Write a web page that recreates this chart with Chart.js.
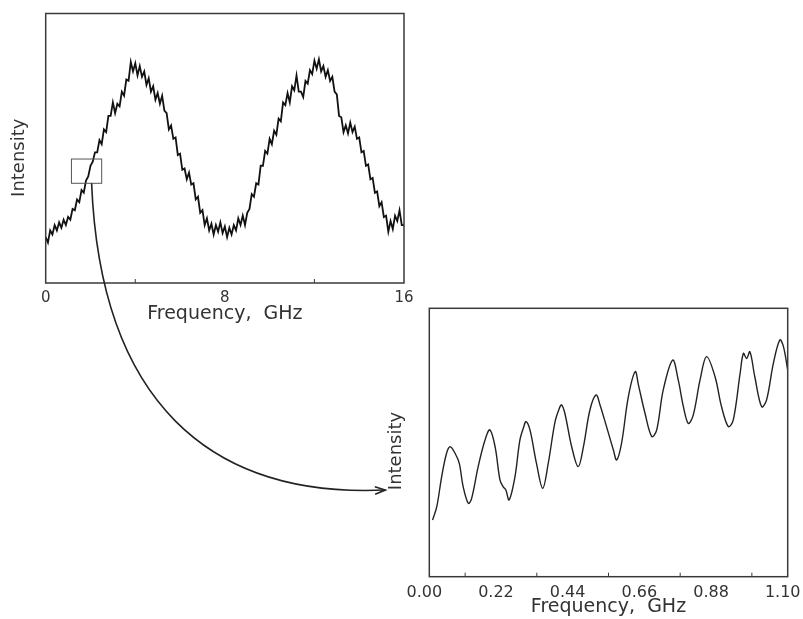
<!DOCTYPE html>
<html>
<head>
<meta charset="utf-8">
<script src="https://cdn.jsdelivr.net/npm/chart.js@4.4.1/dist/chart.umd.min.js"></script>
<style>
  html, body { margin: 0; padding: 0; background: #fff; }
  body { width: 803px; height: 619px; position: relative; overflow: hidden; }
  canvas { position: absolute; }
  #wide { left: 0; top: 0; }
  #zoom { left: 380px; top: 290px; }
  #arrow { left: 0; top: 0; pointer-events: none; }
</style>
</head>
<body>
<canvas id="wide" width="440" height="330"></canvas>
<canvas id="zoom" width="440" height="329"></canvas>
<canvas id="arrow" width="803" height="619"></canvas>
<script>
// Full scan, 0 - 16 GHz
const wideFreq = [
  0, 0.1, 0.2, 0.3, 0.4, 0.5, 0.6, 0.7, 0.8, 0.9,
  1, 1.1, 1.2, 1.3, 1.4, 1.5, 1.6, 1.7, 1.8, 1.9,
  2, 2.1, 2.2, 2.3, 2.4, 2.5, 2.6, 2.7, 2.8, 2.9,
  3, 3.1, 3.2, 3.3, 3.4, 3.5, 3.6, 3.7, 3.8, 3.9,
  4, 4.1, 4.2, 4.3, 4.4, 4.5, 4.6, 4.7, 4.8, 4.9,
  5, 5.1, 5.2, 5.3, 5.4, 5.5, 5.6, 5.7, 5.8, 5.9,
  6, 6.1, 6.2, 6.3, 6.4, 6.5, 6.6, 6.7, 6.8, 6.9,
  7, 7.1, 7.2, 7.3, 7.4, 7.5, 7.6, 7.7, 7.8, 7.9,
  8, 8.1, 8.2, 8.3, 8.4, 8.5, 8.6, 8.7, 8.8, 8.9,
  9, 9.1, 9.2, 9.3, 9.4, 9.5, 9.6, 9.7, 9.8, 9.9,
  10, 10.1, 10.2, 10.3, 10.4, 10.5, 10.6, 10.7, 10.8, 10.9,
  11, 11.1, 11.2, 11.3, 11.4, 11.5, 11.6, 11.7, 11.8, 11.9,
  12, 12.1, 12.2, 12.3, 12.4, 12.5, 12.6, 12.7, 12.8, 12.9,
  13, 13.1, 13.2, 13.3, 13.4, 13.5, 13.6, 13.7, 13.8, 13.9,
  14, 14.1, 14.2, 14.3, 14.4, 14.5, 14.6, 14.7, 14.8, 14.9,
  15, 15.1, 15.2, 15.3, 15.4, 15.5, 15.6, 15.7, 15.8, 15.9,
  16
];
const wideIntensity = [
  17, 15, 19.5, 18, 21.5, 19.5, 22.5, 20.5, 23.5, 21.5,
  24.5, 23.5, 27.5, 27, 31, 30, 34.5, 33.5, 38, 39.5,
  43.5, 45, 48.5, 48.5, 53, 51.5, 57, 56, 62, 62,
  67, 63, 66.5, 65.5, 71, 69.5, 75.5, 75, 82, 78.5,
  81.5, 77, 80.5, 76.5, 78.5, 73.5, 76, 71, 73, 68,
  70.5, 66.5, 69.5, 64, 63, 57, 58.5, 53.5, 54, 47.5,
  48, 42, 42.5, 38.5, 41, 36.5, 37, 31, 32, 26,
  27, 21.5, 24, 19.5, 22, 18, 21.5, 19, 22.5, 18.5,
  21, 17, 20.5, 18, 21.5, 19.5, 24, 21.5, 25, 21.5,
  26, 27.5, 33, 32, 37, 36.5, 43.5, 43.5, 49, 48,
  53.5, 51.5, 56.5, 55, 61, 60, 67, 66, 70.5, 67,
  73, 71.5, 77, 71, 71, 69, 75, 74, 79, 77.5,
  82.5, 79.5, 83, 78.5, 80.5, 76.5, 79, 75, 76.5, 71,
  70, 62, 61.5, 56, 58.5, 55.5, 59.5, 56, 58, 53.5,
  54, 48.5, 49, 43.5, 44, 38.5, 39, 33.5, 34, 28.5,
  30, 24.5, 25, 19, 23, 20, 25, 23, 27, 21.5,
  21.5
];
const wideTicks = [0, 8, 16];
const wideMinor = [4, 12];
// the magnified window marked on the full scan
const windowFreq = [1.15, 2.5];
const windowIntensity = [37, 46];
const arrowFromFreq = 2.05;

// Magnified scan, 0 - 1.1 GHz
const zoomFreq = [
  0.010, 0.023, 0.038, 0.053, 0.064, 0.079, 0.092, 0.104, 0.120, 0.130,
  0.150, 0.171, 0.186, 0.202, 0.217, 0.227, 0.235, 0.245, 0.263, 0.278,
  0.290, 0.297, 0.309, 0.329, 0.348, 0.365, 0.386, 0.399, 0.406, 0.416,
  0.437, 0.457, 0.473, 0.493, 0.512, 0.524, 0.544, 0.565, 0.575, 0.590,
  0.611, 0.632, 0.642, 0.662, 0.683, 0.698, 0.718, 0.747, 0.764, 0.780,
  0.795, 0.810, 0.831, 0.851, 0.877, 0.897, 0.918, 0.933, 0.954, 0.964,
  0.974, 0.984, 0.999, 1.020, 1.035, 1.056, 1.076, 1.087, 1.100
];
const zoomIntensity = [
  21.1, 26.1, 37.3, 46.0, 48.4, 46.0, 42.2, 33.5, 27.3, 29.2,
  41.0, 50.9, 54.7, 48.4, 36.0, 33.5, 32.3, 28.6, 37.3, 50.9,
  55.9, 57.8, 54.7, 42.2, 32.9, 42.2, 57.8, 62.7, 64.0, 60.9,
  48.4, 41.0, 48.4, 62.1, 67.7, 64.0, 55.9, 47.2, 43.5, 49.7,
  67.1, 76.4, 71.4, 60.9, 52.2, 54.7, 69.6, 80.7, 73.3, 63.3,
  57.1, 60.2, 73.3, 82.0, 74.5, 63.3, 55.9, 58.4, 75.8, 83.2,
  81.3, 83.8, 74.5, 63.3, 65.8, 79.5, 88.2, 85.7, 77.0
];
const zoomTicks = [0, 0.22, 0.44, 0.66, 0.88, 1.1];
const zoomTickLabels = ['0.00', '0.22', '0.44', '0.66', '0.88', '1.10'];
const zoomMinor = [0.11, 0.33, 0.55, 0.77, 0.99];
const arrowToIntensity = 32.3;

const FONT = '"DejaVu Sans", sans-serif';
const INK = '#333';

// frame, inner minor ticks, window box and the y title
const decor = {
  id: 'decor',
  afterDraw(chart, args, o) {
    const { ctx, chartArea: a, scales: { x, y } } = chart;
    ctx.save();
    ctx.strokeStyle = '#3a3a3a';
    ctx.lineWidth = 1.5;
    ctx.strokeRect(a.left, a.top, a.right - a.left, a.bottom - a.top);

    ctx.lineWidth = 1;
    ctx.beginPath();
    o.minor.forEach(v => {
      const px = x.getPixelForValue(v);
      ctx.moveTo(px, a.bottom);
      ctx.lineTo(px, a.bottom - 4);
    });
    ctx.stroke();

    if (o.windowFreq) {
      const x0 = x.getPixelForValue(o.windowFreq[0]);
      const x1 = x.getPixelForValue(o.windowFreq[1]);
      const y0 = y.getPixelForValue(o.windowIntensity[0]);
      const y1 = y.getPixelForValue(o.windowIntensity[1]);
      ctx.strokeStyle = '#555';
      ctx.lineWidth = 1;
      ctx.strokeRect(x0, y1, x1 - x0, y0 - y1);
    }

    ctx.translate(a.left + o.titleDx, (a.top + a.bottom) / 2 + o.titleDy);
    ctx.rotate(-Math.PI / 2);
    ctx.font = '18px ' + FONT;
    ctx.fillStyle = INK;
    ctx.textAlign = 'center';
    ctx.textBaseline = 'middle';
    ctx.fillText('Intensity', 0, 0);
    ctx.restore();
  }
};

function makeChart(id, cfg) {
  return new Chart(document.getElementById(id), {
    type: 'line',
    data: {
      datasets: [{
        data: cfg.freq.map((f, i) => ({ x: f, y: cfg.intensity[i] })),
        borderColor: cfg.color,
        borderWidth: cfg.width,
        pointRadius: 0,
        tension: cfg.tension,
        fill: false
      }]
    },
    options: {
      responsive: false,
      animation: false,
      layout: { padding: cfg.padding },
      plugins: {
        legend: { display: false },
        tooltip: { enabled: false },
        decor: cfg.decor
      },
      scales: {
        x: {
          type: 'linear',
          min: cfg.xMin,
          max: cfg.xMax,
          afterBuildTicks: s => { s.ticks = cfg.ticks.map(v => ({ value: v })); },
          afterFit: s => { s.height = cfg.xHeight; },
          ticks: {
            autoSkip: false,
            maxRotation: 0,
            padding: cfg.tickPad,
            labelOffset: cfg.labelOffset,
            color: INK,
            font: { family: FONT, size: cfg.tickSize },
            callback: (v, i) => cfg.tickLabels[i]
          },
          grid: { display: false },
          border: { display: false },
          title: {
            display: true,
            text: 'Frequency,  GHz',
            color: INK,
            font: { family: FONT, size: 19 },
            padding: { top: 0, bottom: cfg.titlePad }
          }
        },
        y: {
          min: 0,
          max: 100,
          afterFit: s => { s.width = cfg.yWidth; },
          ticks: { display: false },
          grid: { display: false },
          border: { display: false }
        }
      }
    },
    plugins: [decor]
  });
}

const wide = makeChart('wide', {
  freq: wideFreq, intensity: wideIntensity,
  color: '#111', width: 1.8, tension: 0,
  xMin: 0, xMax: 16,
  ticks: wideTicks, tickLabels: wideTicks.map(String),
  tickSize: 15, tickPad: -2, labelOffset: 0, titlePad: 5,
  padding: { top: 13.5, right: 36, bottom: 0, left: 0 },
  xHeight: 47, yWidth: 45.7,
  decor: { minor: wideMinor, windowFreq, windowIntensity, titleDx: -26.5, titleDy: 9.5 }
});

const zoom = makeChart('zoom', {
  freq: zoomFreq, intensity: zoomIntensity,
  color: '#222', width: 1.4, tension: 0.35,
  xMin: 0, xMax: 1.1,
  ticks: zoomTicks, tickLabels: zoomTickLabels,
  tickSize: 16, tickPad: -1, labelOffset: -5, titlePad: 1,
  padding: { top: 18.3, right: 32.3, bottom: 0, left: 0 },
  xHeight: 42.3, yWidth: 49.3,
  decor: { minor: zoomMinor, titleDx: -32.5, titleDy: 8.5 }
});

// curved arrow from the window on the full scan to the magnified scan
const actx = document.getElementById('arrow').getContext('2d');
const sx = wide.scales.x.getPixelForValue(arrowFromFreq);
const sy = wide.scales.y.getPixelForValue(windowIntensity[0]);
const ex = 380 + zoom.chartArea.left - 44;
const ey = 290 + zoom.scales.y.getPixelForValue(arrowToIntensity);
const c1x = sx + 0.03 * (ex - sx), c1y = sy + 0.71 * (ey - sy);
const c2x = sx + 0.4 * (ex - sx), c2y = ey + 8;
actx.strokeStyle = '#222';
actx.lineWidth = 1.6;
actx.beginPath();
actx.moveTo(sx, sy);
actx.bezierCurveTo(c1x, c1y, c2x, c2y, ex, ey);
actx.stroke();
const ang = Math.atan2(ey - c2y, ex - c2x);
actx.beginPath();
actx.moveTo(ex - 11 * Math.cos(ang - 0.35), ey - 11 * Math.sin(ang - 0.35));
actx.lineTo(ex, ey);
actx.lineTo(ex - 11 * Math.cos(ang + 0.35), ey - 11 * Math.sin(ang + 0.35));
actx.stroke();
</script>
</body>
</html>
